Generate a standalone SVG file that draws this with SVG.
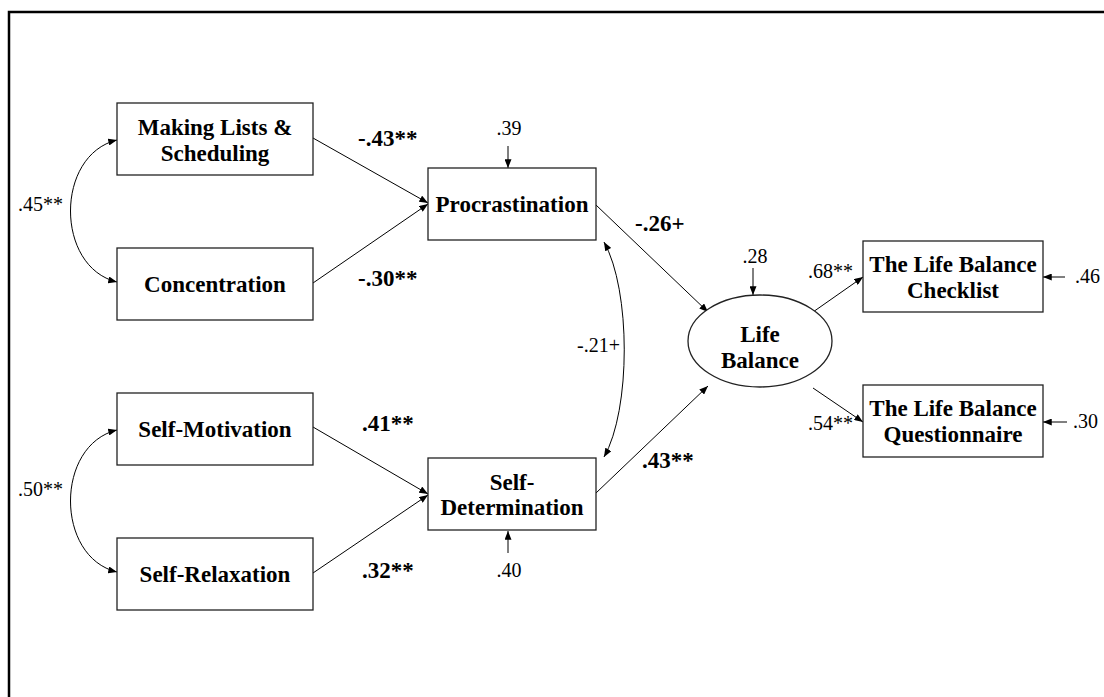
<svg xmlns="http://www.w3.org/2000/svg" width="1104" height="697" viewBox="0 0 1104 697">
<style>
  .box { fill: #fff; stroke: #222; stroke-width: 1.3; }
  .node { font-family: "Liberation Serif", "Times New Roman", serif; font-weight: bold; font-size: 23px; fill: #000; text-anchor: middle; }
  .bl { font-family: "Liberation Serif", "Times New Roman", serif; font-weight: bold; font-size: 23px; fill: #000; }
  .rl { font-family: "Liberation Serif", "Times New Roman", serif; font-size: 20px; fill: #000; }
  .edge { fill: none; stroke: #000; stroke-width: 1; }
</style>
<defs>
  <marker id="arr" viewBox="0 0 10 8" refX="10" refY="4" markerWidth="9" markerHeight="7" markerUnits="userSpaceOnUse" orient="auto-start-reverse">
    <path d="M0,0 L10,4 L0,8 z" fill="#000"/>
  </marker>
</defs>
<rect width="1104" height="697" fill="#fff"/>
<path d="M9,697 V12 H1104" fill="none" stroke="#000" stroke-width="2.5"/>

<g id="connectors">
  <line class="edge" x1="313" y1="138" x2="428" y2="203" marker-end="url(#arr)"/>
  <line class="edge" x1="313" y1="283" x2="428" y2="204" marker-end="url(#arr)"/>
  <line class="edge" x1="313" y1="427" x2="428" y2="494" marker-end="url(#arr)"/>
  <line class="edge" x1="313" y1="573" x2="428" y2="495" marker-end="url(#arr)"/>
  <line class="edge" x1="596" y1="205" x2="708" y2="312" marker-end="url(#arr)"/>
  <line class="edge" x1="596" y1="493" x2="708" y2="386" marker-end="url(#arr)"/>
  <line class="edge" x1="813" y1="312" x2="863" y2="277" marker-end="url(#arr)"/>
  <line class="edge" x1="813" y1="388" x2="863" y2="422" marker-end="url(#arr)"/>
  <line class="edge" x1="508" y1="146" x2="508" y2="168" marker-end="url(#arr)"/>
  <line class="edge" x1="508" y1="553" x2="508" y2="531" marker-end="url(#arr)"/>
  <line class="edge" x1="753" y1="268" x2="753" y2="295" marker-end="url(#arr)"/>
  <line class="edge" x1="1065" y1="277" x2="1043" y2="277" marker-end="url(#arr)"/>
  <line class="edge" x1="1067" y1="422" x2="1043" y2="422" marker-end="url(#arr)"/>
  <path class="edge" d="M117,140 C55,155 55,267 117,282" marker-start="url(#arr)" marker-end="url(#arr)"/>
  <path class="edge" d="M117,430 C55,445 55,557 117,572" marker-start="url(#arr)" marker-end="url(#arr)"/>
  <path class="edge" d="M604,242 C631,290 631,410 604,457" marker-start="url(#arr)" marker-end="url(#arr)"/>

  <text class="bl" x="358" y="146">-.43**</text>
  <text class="bl" x="358" y="286">-.30**</text>
  <text class="bl" x="362" y="431">.41**</text>
  <text class="bl" x="362" y="578">.32**</text>
  <text class="bl" x="635" y="231">-.26+</text>
  <text class="bl" x="642" y="468">.43**</text>
  <text class="rl" x="18" y="211">.45**</text>
  <text class="rl" x="18" y="496">.50**</text>
  <text class="rl" x="620" y="352" text-anchor="end">-.21+</text>
  <text class="rl" x="509" y="135" text-anchor="middle">.39</text>
  <text class="rl" x="509" y="577" text-anchor="middle">.40</text>
  <text class="rl" x="755" y="263" text-anchor="middle">.28</text>
  <text class="rl" x="808" y="278">.68**</text>
  <text class="rl" x="808" y="430">.54**</text>
  <text class="rl" x="1075" y="283">.46</text>
  <text class="rl" x="1073" y="428">.30</text>
</g>

<g id="making-lists">
  <rect class="box" x="117" y="103" width="196" height="72"/>
  <text class="node" x="215" y="135">Making Lists &amp;</text>
  <text class="node" x="215" y="161">Scheduling</text>
</g>
<g id="concentration">
  <rect class="box" x="117" y="248" width="196" height="72"/>
  <text class="node" x="215" y="292">Concentration</text>
</g>
<g id="self-motivation">
  <rect class="box" x="117" y="393" width="196" height="72"/>
  <text class="node" x="215" y="437">Self-Motivation</text>
</g>
<g id="self-relaxation">
  <rect class="box" x="117" y="538" width="196" height="72"/>
  <text class="node" x="215" y="582">Self-Relaxation</text>
</g>
<g id="procrastination">
  <rect class="box" x="428" y="168" width="168" height="72"/>
  <text class="node" x="512" y="212">Procrastination</text>
</g>
<g id="self-determination">
  <rect class="box" x="428" y="458" width="168" height="72"/>
  <text class="node" x="512" y="490">Self-</text>
  <text class="node" x="512" y="515">Determination</text>
</g>
<g id="life-balance">
  <ellipse class="box" cx="760" cy="341" rx="72" ry="46"/>
  <text class="node" x="760" y="342">Life</text>
  <text class="node" x="760" y="368">Balance</text>
</g>
<g id="checklist">
  <rect class="box" x="863" y="241" width="180" height="71"/>
  <text class="node" x="953" y="272">The Life Balance</text>
  <text class="node" x="953" y="298">Checklist</text>
</g>
<g id="questionnaire">
  <rect class="box" x="863" y="385" width="180" height="72"/>
  <text class="node" x="953" y="416">The Life Balance</text>
  <text class="node" x="953" y="442">Questionnaire</text>
</g>
</svg>
